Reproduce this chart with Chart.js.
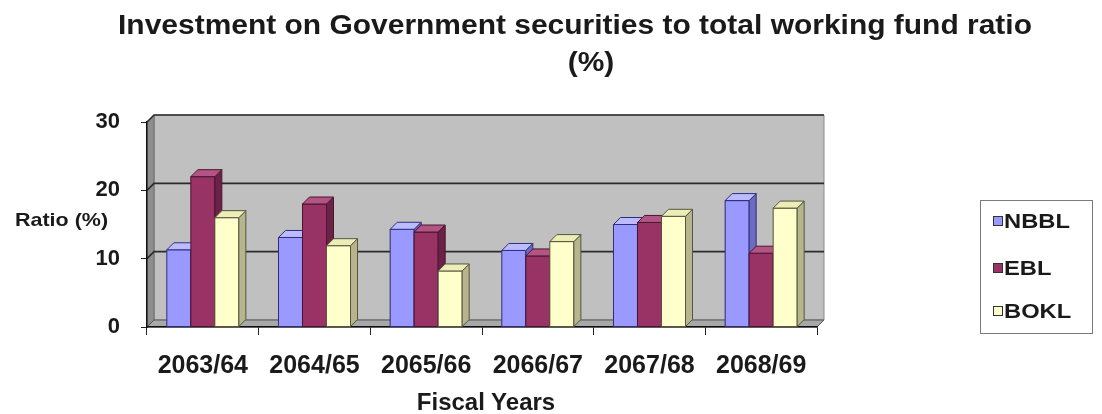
<!DOCTYPE html>
<html lang="en">
<head>
    <meta charset="UTF-8">
    <title>Investment on Government securities to total working fund ratio</title>
    <script src="https://cdn.jsdelivr.net/npm/chart.js"></script>
    <style>
        body { margin: 0; background: #fff; }
        .quadro { position: relative; width: 1102px; height: 414px; overflow: hidden;
                  font-family: "Liberation Sans", Arial, sans-serif; font-weight: bold; color: #1a1a1a; }
        #grafico { position: absolute; left: 0; top: 0; }
        .titulo { position: absolute; left: 0; width: 1150px; text-align: center; font-size: 28px;
                  line-height: 32px; transform: scaleX(1.07); transform-origin: 575px 0; white-space: nowrap; }
        .eixoY { position: absolute; left: 15px; top: 208px; font-size: 19px; line-height: 24px;
                 transform: scaleX(1.13); transform-origin: 0 0; white-space: nowrap; }
        .eixoX { position: absolute; left: 386px; width: 200px; top: 388px; text-align: center;
                 font-size: 24px; line-height: 28px; white-space: nowrap; }
        .legenda { position: absolute; left: 980px; top: 200px; width: 111px; height: 132px;
                   border: 1px solid #7a7a7a; }
        .item { position: absolute; left: 12px; font-size: 21px; line-height: 24px; white-space: nowrap; }
        .item span.cor { display: inline-block; width: 8px; height: 8px; border: 1px solid #333;
                         margin-right: 1px; vertical-align: 2px; }
        .item span.txt { display: inline-block; transform: scaleX(1.13); transform-origin: 0 50%; }
    </style>
</head>

<body>
    <div class="quadro">
        <canvas id="grafico" width="1102" height="414"></canvas>
        <div class="titulo" style="top: 9px;">Investment on Government securities to total working fund ratio</div>
        <div class="titulo" style="top: 46px; left: 16px;">(%)</div>
        <div class="eixoY">Ratio (%)</div>
        <div class="eixoX">Fiscal Years</div>
        <div class="legenda" id="legenda"></div>
    </div>

<script>
    // dados
    const anos = ['2063/64', '2064/65', '2065/66', '2066/67', '2067/68', '2068/69'];
    const nbbl = [11.3, 13.1, 14.3, 11.2, 15.0, 18.5];
    const ebl = [22.0, 18.0, 13.9, 10.4, 15.3, 10.8];
    const bokl = [16.0, 11.9, 8.2, 12.5, 16.2, 17.4];
    const ticksY = [0, 10, 20, 30];

    // cores: frente, topo, lado, borda
    const cores = {
        NBBL: ['#9999FF', '#BBBBFF', '#6B6BBF', '#2E2E7A'],
        EBL: ['#993366', '#B25582', '#6A2246', '#4A1530'],
        BOKL: ['#FFFFCC', '#EDEDB8', '#B5B58E', '#55553A']
    };

    const prof = { dx: 7, dy: 7 };

    function poligono(ctx, pts, fill, stroke) {
        ctx.beginPath();
        ctx.moveTo(pts[0][0], pts[0][1]);
        for (let i = 1; i < pts.length; i++) ctx.lineTo(pts[i][0], pts[i][1]);
        ctx.closePath();
        ctx.fillStyle = fill;
        ctx.fill();
        if (stroke) { ctx.strokeStyle = stroke; ctx.lineWidth = 1; ctx.stroke(); }
    }

    // paredes e piso em 3D, desenhados antes dos eixos
    const paredes = {
        id: 'paredes',
        beforeDraw(chart) {
            const { ctx, chartArea: a, scales: { y } } = chart;
            const dx = prof.dx, dy = prof.dy;
            ctx.save();
            // parede do fundo
            poligono(ctx, [[a.left + dx, a.top - dy], [a.right + dx, a.top - dy],
                [a.right + dx, a.bottom - dy], [a.left + dx, a.bottom - dy]], '#C0C0C0', '#8a8a8a');
            // parede lateral
            poligono(ctx, [[a.left, a.bottom], [a.left, a.top], [a.left + dx, a.top - dy],
                [a.left + dx, a.bottom - dy]], '#8E8E8E', '#6a6a6a');
            // piso
            poligono(ctx, [[a.left, a.bottom], [a.left + dx, a.bottom - dy], [a.right + dx, a.bottom - dy],
                [a.right, a.bottom]], '#A8A8A8', '#555');
            // linhas de grade
            ctx.strokeStyle = '#2b2b2b';
            ctx.lineWidth = 1.6;
            y.ticks.forEach(t => {
                if (t.value === 0) return;
                const py = y.getPixelForValue(t.value);
                ctx.beginPath();
                ctx.moveTo(a.left, py);
                ctx.lineTo(a.left + dx, py - dy);
                ctx.lineTo(a.right + dx, py - dy);
                ctx.stroke();
            });
            ctx.restore();
        },
        afterDatasetsDraw(chart) {
            const ctx = chart.ctx;
            const dx = prof.dx, dy = prof.dy;
            const metas = chart.getSortedVisibleDatasetMetas();
            ctx.save();
            for (let i = 0; i < anos.length; i++) {
                metas.forEach(meta => {
                    const c = cores[chart.data.datasets[meta.index].label];
                    const p = meta.data[i].getProps(['x', 'y', 'base', 'width'], true);
                    const l = p.x - p.width / 2, r = p.x + p.width / 2;
                    const t = p.y, b = p.base;
                    poligono(ctx, [[l, b], [l, t], [r, t], [r, b]], c[0], c[3]);
                    poligono(ctx, [[r, b], [r, t], [r + dx, t - dy], [r + dx, b - dy]], c[2], c[3]);
                    poligono(ctx, [[l, t], [l + dx, t - dy], [r + dx, t - dy], [r, t]], c[1], c[3]);
                });
            }
            ctx.restore();
        }
    };

    const dados = {
        labels: anos,
        datasets: [
            { label: 'NBBL', data: nbbl, backgroundColor: cores.NBBL[0], borderColor: cores.NBBL[3], borderWidth: 1 },
            { label: 'EBL', data: ebl, backgroundColor: cores.EBL[0], borderColor: cores.EBL[3], borderWidth: 1 },
            { label: 'BOKL', data: bokl, backgroundColor: cores.BOKL[0], borderColor: cores.BOKL[3], borderWidth: 1 }
        ]
    };

    const config = {
        type: 'bar',
        data: dados,
        options: {
            responsive: false,
            animation: false,
            events: [],
            layout: { padding: { top: 122, right: 285, bottom: 0, left: 0 } },
            datasets: { bar: { categoryPercentage: 0.645, barPercentage: 1.0 } },
            plugins: { legend: { display: false }, title: { display: false }, tooltip: { enabled: false } },
            scales: {
                x: {
                    afterFit: s => { s.height = 87; },
                    grid: { drawOnChartArea: false, drawTicks: true, tickLength: 8, color: '#222' },
                    border: { color: '#111', width: 1.5 },
                    ticks: { color: '#1a1a1a', padding: 16, maxRotation: 0,
                             font: { family: '"Liberation Sans", Arial, sans-serif', size: 25, weight: 'bold' } }
                },
                y: {
                    min: 0,
                    max: 30,
                    afterFit: s => { s.width = 147; },
                    afterBuildTicks: s => { s.ticks = ticksY.map(v => ({ value: v })); },
                    grid: { drawOnChartArea: false, drawTicks: true, tickLength: 6, color: '#222' },
                    border: { color: '#111', width: 1.5 },
                    ticks: { color: '#1a1a1a', padding: 21,
                             font: { family: '"Liberation Sans", Arial, sans-serif', size: 22, weight: 'bold' } }
                }
            }
        },
        plugins: [paredes]
    };

    const grafico = new Chart(document.getElementById('grafico'), config);

    // legenda em html
    const posLegenda = [8, 55, 98];
    const legenda = document.getElementById('legenda');
    dados.datasets.forEach((ds, i) => {
        const item = document.createElement('div');
        item.className = 'item';
        item.style.top = posLegenda[i] + 'px';
        item.innerHTML = '<span class="cor" style="background:' + ds.backgroundColor + '"></span><span class="txt">' + ds.label + '</span>';
        legenda.appendChild(item);
    });
</script>
</body>

</html>
